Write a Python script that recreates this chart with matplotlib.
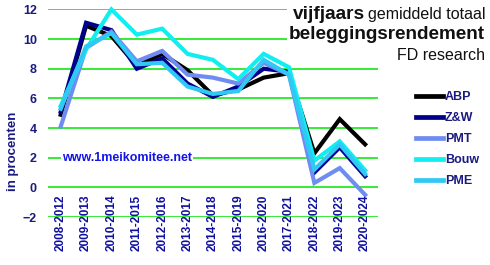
import numpy as np
import matplotlib
matplotlib.use("Agg")
import matplotlib.pyplot as plt

plt.rcParams['font.family'] = ['Liberation Sans', 'DejaVu Sans']

# periodes
periods = ['2008-2012', '2009-2013', '2010-2014', '2011-2015', '2012-2016',
           '2013-2017', '2014-2018', '2015-2019', '2016-2020', '2017-2021',
           '2018-2022', '2019-2023', '2020-2024']

# vijfjaars gemiddeld rendement per fonds (in procenten)
abp = [4.9, 10.9, 10.2, 8.2, 9.0, 7.9, 6.2, 6.6, 7.4, 7.7, 2.3, 4.6, 2.9]
zw = [5.1, 11.1, 10.6, 8.0, 8.7, 7.0, 6.1, 6.8, 8.0, 7.8, 1.0, 2.7, 0.75]
pmt = [4.1, 9.4, 10.5, 8.5, 9.2, 7.6, 7.4, 7.0, 8.4, 7.6, 0.3, 1.3, -0.5]
bouw = [5.5, 9.3, 12.0, 10.3, 10.7, 9.0, 8.6, 7.3, 9.0, 8.1, 1.8, 3.1, 1.15]
pme = [5.3, 9.5, 10.4, 8.3, 8.4, 6.8, 6.3, 6.5, 8.6, 7.6, 1.2, 2.9, 0.9]

series = [('ABP', abp, '#000000'),
          ('Z&W', zw, '#00008c'),
          ('PMT', pmt, '#6f8cf0'),
          ('Bouw', bouw, '#10eef0'),
          ('PME', pme, '#30c8f4')]

navy = '#1a1a80'

fig = plt.figure(figsize=(4.9, 2.65), dpi=100)
ax = fig.add_axes([0.098, 0.181, 0.673, 0.7835])

x = np.arange(len(periods))
for name, vals, col in series:
    ax.plot(x, vals, color=col, lw=3.0, label=name, clip_on=False,
            solid_joinstyle='miter')

ax.set_xlim(-0.5, len(periods) - 0.5)
ax.set_ylim(-2, 12)
ax.set_yticks(range(-2, 13, 2))
ax.yaxis.grid(True, color='#00e600', lw=1.1)
ax.set_axisbelow(True)
ax.set_xticks([])
for s in ax.spines.values():
    s.set_visible(False)
ax.tick_params(axis='y', length=0, pad=8, labelcolor=navy, labelsize=9)
for t in ax.get_yticklabels():
    t.set_fontweight('bold')

# x labels hang below the 0 line
for i, p in enumerate(periods):
    ax.text(i, -0.5, p, rotation=90, ha='center', va='top', fontsize=8.5,
            fontweight='bold', color='#1010a0')

ax.set_ylabel('in procenten', color=navy, fontsize=9.5, fontweight='bold')
ax.yaxis.set_label_coords(-0.087, 0.318)

ax.text(0.05, 2, 'www.1meikomitee.net', fontsize=9, fontweight='bold',
        color='#1414e6', va='center', ha='left',
        bbox=dict(facecolor='white', edgecolor='none', pad=1))

# titel
fig.patches.append(plt.Rectangle((0.585, 0.76), 0.415, 0.24,
                                 transform=fig.transFigure, facecolor='white',
                                 edgecolor='none', zorder=5))
t1 = fig.text(0.99, 0.93, 'gemiddeld totaal', ha='right', va='baseline',
              fontsize=11.5, color='#111111', zorder=6)
fig.canvas.draw()
bb = t1.get_window_extent()
fig.text(bb.x0 / fig.bbox.width - 0.006, 0.93, 'vijfjaars', ha='right',
         va='baseline', fontsize=13.7, fontweight='bold', color='#111111',
         zorder=6)
fig.text(0.99, 0.853, 'beleggingsrendement', ha='right', va='baseline',
         fontsize=13.6, fontweight='bold', color='#111111', zorder=6)
fig.text(0.99, 0.775, 'FD research', ha='right', va='baseline',
         fontsize=11.5, color='#111111', zorder=6)

leg = fig.legend(loc='upper left', bbox_to_anchor=(0.838, 0.675),
                 frameon=False, prop={'weight': 'bold', 'size': 9},
                 labelcolor=navy, handlelength=2.2, handletextpad=0.15,
                 labelspacing=0.72, borderaxespad=0)
for h in leg.get_lines():
    h.set_linewidth(3.4)

fig.savefig('out.png', dpi=100)
